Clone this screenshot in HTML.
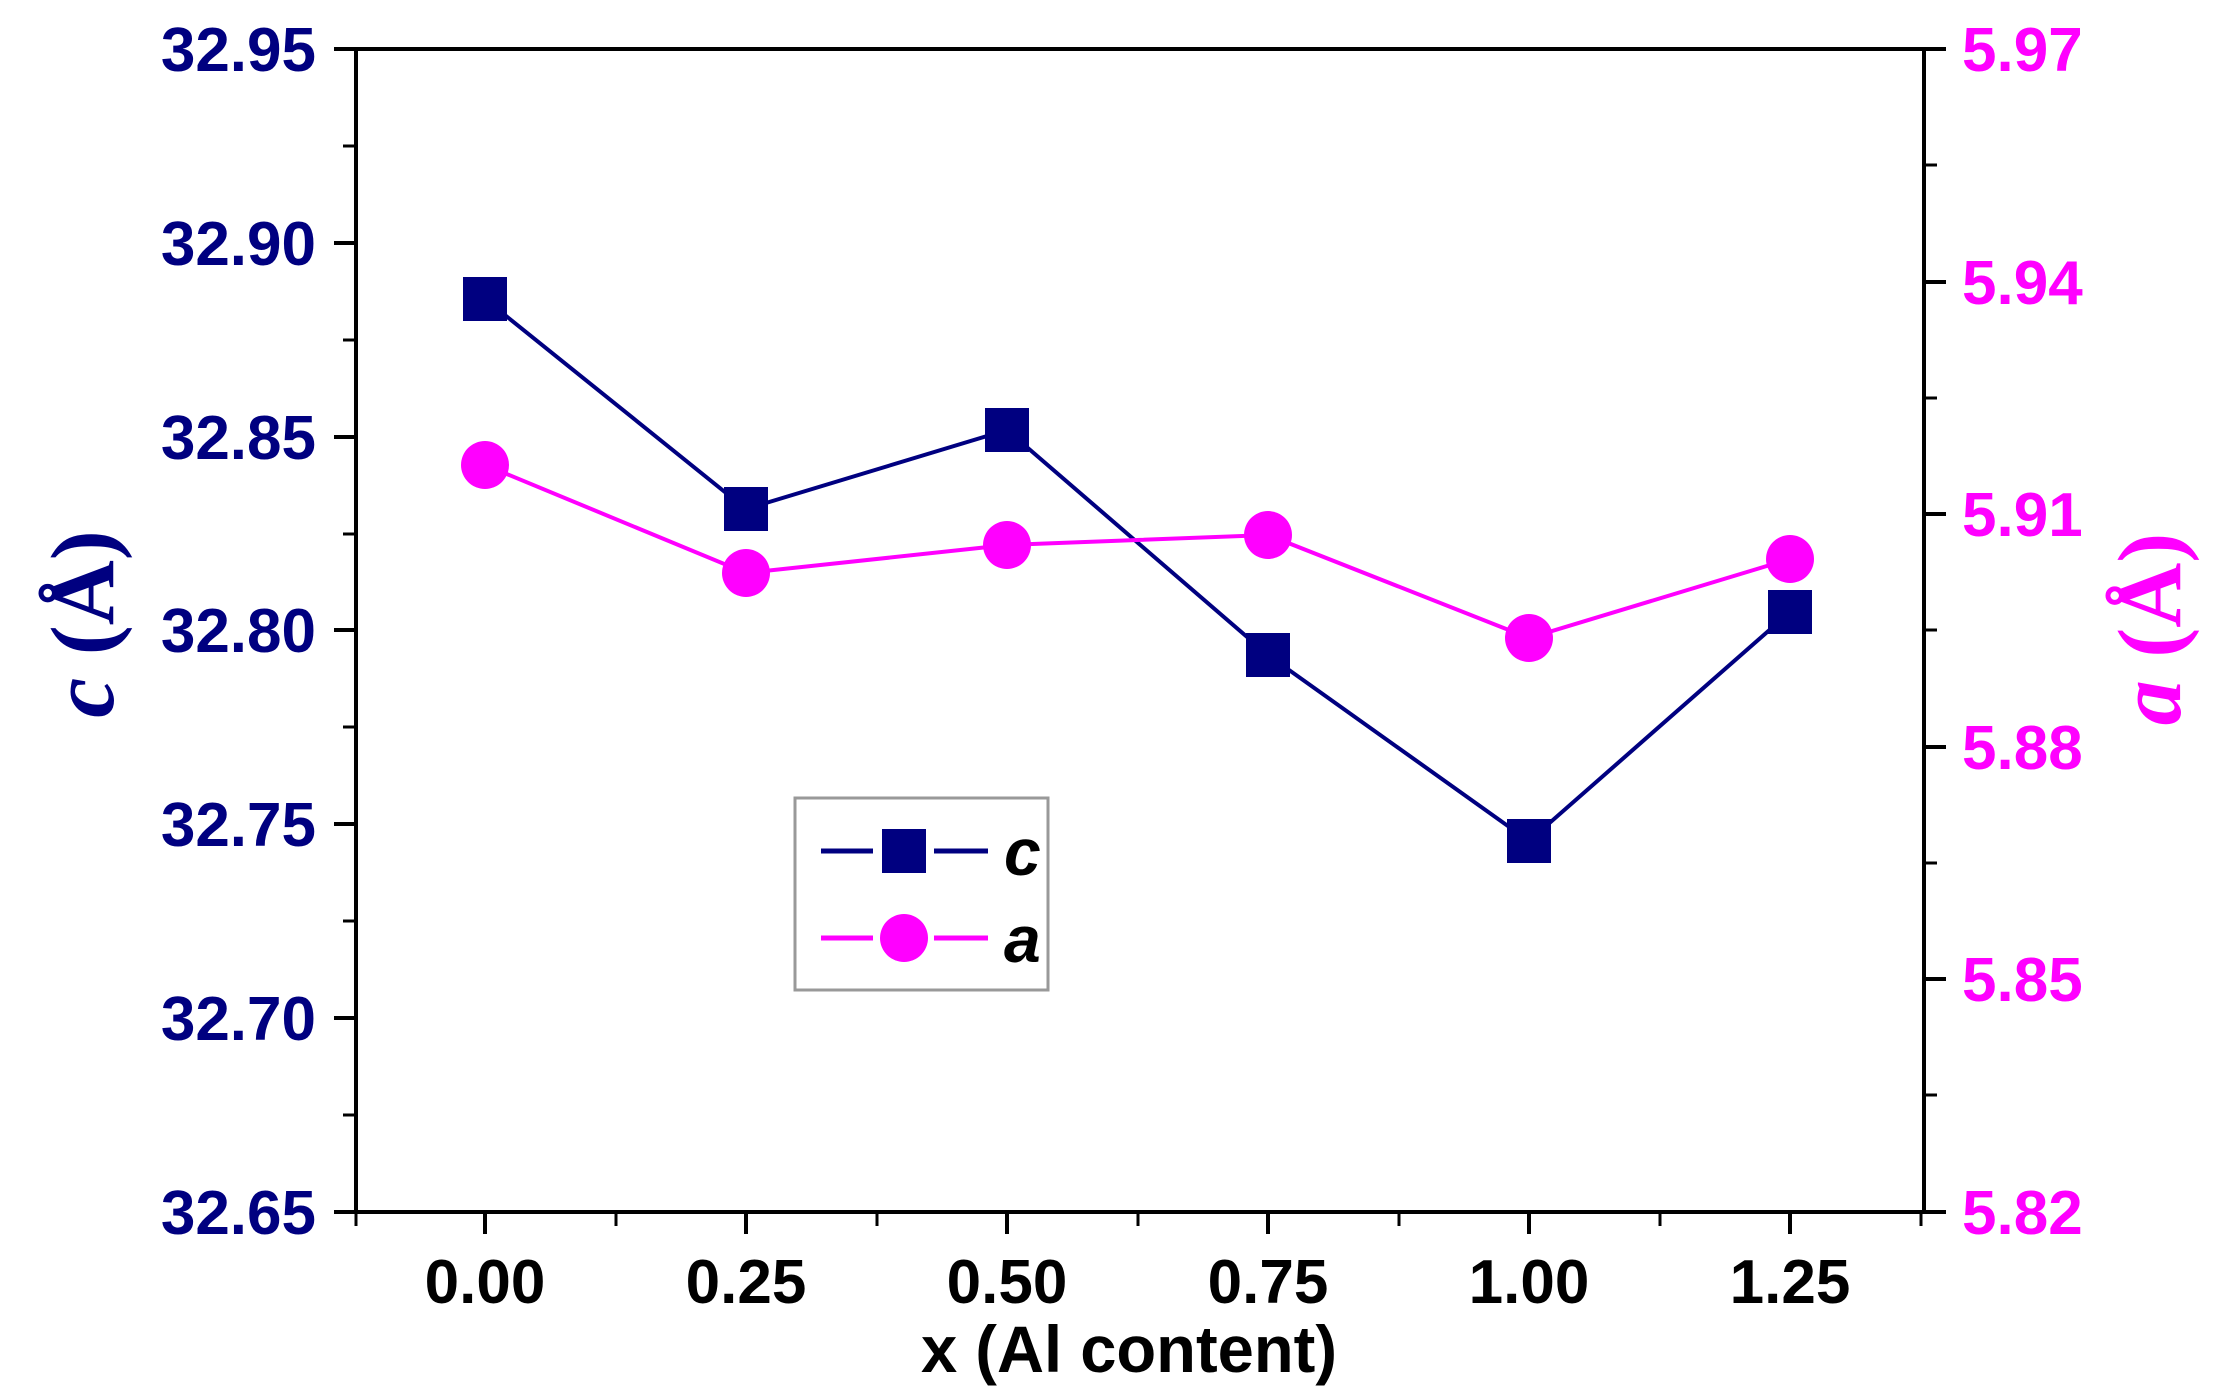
<!DOCTYPE html>
<html><head><meta charset="utf-8"><style>html,body{margin:0;padding:0;background:#fff}svg{display:block}</style></head>
<body>
<svg width="2231" height="1396" viewBox="0 0 2231 1396" xmlns="http://www.w3.org/2000/svg">
<rect width="2231" height="1396" fill="#fff"/>
<g stroke="#000" stroke-width="4" fill="none">
<rect x="356" y="49" width="1568" height="1163"/>
<path d="M334 49H356M334 243H356M334 437H356M334 630H356M334 824H356M334 1018H356M334 1212H356"/>
<path d="M343 146H356M343 340H356M343 534H356M343 727H356M343 921H356M343 1115H356" stroke-width="3"/>
<path d="M1924 49H1946M1924 282H1946M1924 514H1946M1924 747H1946M1924 979H1946M1924 1212H1946"/>
<path d="M1924 165H1937M1924 398H1937M1924 630H1937M1924 863H1937M1924 1095H1937" stroke-width="3"/>
<path d="M485 1212V1234M746 1212V1234M1007 1212V1234M1268 1212V1234M1529 1212V1234M1790 1212V1234"/>
<path d="M356 1212V1226M616 1212V1226M877 1212V1226M1138 1212V1226M1399 1212V1226M1660 1212V1226M1921 1212V1226" stroke-width="3"/>
</g>
<g font-family="Liberation Sans, Arial, sans-serif" font-weight="bold" font-size="62" fill="#000080" text-anchor="end">
<text x="316" y="71">32.95</text><text x="316" y="265">32.90</text><text x="316" y="459">32.85</text><text x="316" y="652">32.80</text><text x="316" y="846">32.75</text><text x="316" y="1040">32.70</text><text x="316" y="1234">32.65</text>
</g>
<g font-family="Liberation Sans, Arial, sans-serif" font-weight="bold" font-size="62" fill="#ff00ff">
<text x="1962" y="71">5.97</text><text x="1962" y="304">5.94</text><text x="1962" y="536">5.91</text><text x="1962" y="769">5.88</text><text x="1962" y="1001">5.85</text><text x="1962" y="1234">5.82</text>
</g>
<g font-family="Liberation Sans, Arial, sans-serif" font-weight="bold" font-size="62" fill="#000" text-anchor="middle">
<text x="485" y="1303">0.00</text><text x="746" y="1303">0.25</text><text x="1007" y="1303">0.50</text><text x="1268" y="1303">0.75</text><text x="1529" y="1303">1.00</text><text x="1790" y="1303">1.25</text>
<text x="1129" y="1372" font-size="66" textLength="416" lengthAdjust="spacingAndGlyphs">x (Al content)</text>
</g>
<text transform="translate(113,624) rotate(-90)" text-anchor="middle" font-family="Liberation Serif, serif" font-weight="bold" font-size="90" fill="#000080"><tspan font-style="italic">c</tspan> (Å)</text>
<text transform="translate(2180,629) rotate(-90)" text-anchor="middle" font-family="Liberation Serif, serif" font-weight="bold" font-size="90" fill="#ff00ff"><tspan font-style="italic">a</tspan> (Å)</text>
<polyline points="485,299 746,509 1007,430 1268,655 1529,841 1790,612" fill="none" stroke="#000080" stroke-width="4"/>
<g fill="#000080">
<rect x="463" y="277" width="44" height="44"/><rect x="724" y="487" width="44" height="44"/><rect x="985" y="408" width="44" height="44"/><rect x="1246" y="633" width="44" height="44"/><rect x="1507" y="819" width="44" height="44"/><rect x="1768" y="590" width="44" height="44"/>
</g>
<polyline points="485,465 746,573 1007,545 1268,535 1529,638 1790,559" fill="none" stroke="#ff00ff" stroke-width="4"/>
<g fill="#ff00ff">
<circle cx="485" cy="465" r="24"/><circle cx="746" cy="573" r="24"/><circle cx="1007" cy="545" r="24"/><circle cx="1268" cy="535" r="24"/><circle cx="1529" cy="638" r="24"/><circle cx="1790" cy="559" r="24"/>
</g>
<rect x="795" y="798" width="253" height="192" fill="#fff" stroke="#999" stroke-width="3"/>
<path d="M821 851H873M934 851H988" stroke="#000080" stroke-width="5"/>
<rect x="882" y="829" width="44" height="44" fill="#000080"/>
<path d="M821 938H873M934 938H988" stroke="#ff00ff" stroke-width="5"/>
<circle cx="904" cy="938" r="24" fill="#ff00ff"/>
<g font-family="Liberation Sans, Arial, sans-serif" font-weight="bold" font-style="italic" font-size="66" fill="#000">
<text x="1004" y="875">c</text><text x="1004" y="962">a</text>
</g>
</svg>
</body></html>
